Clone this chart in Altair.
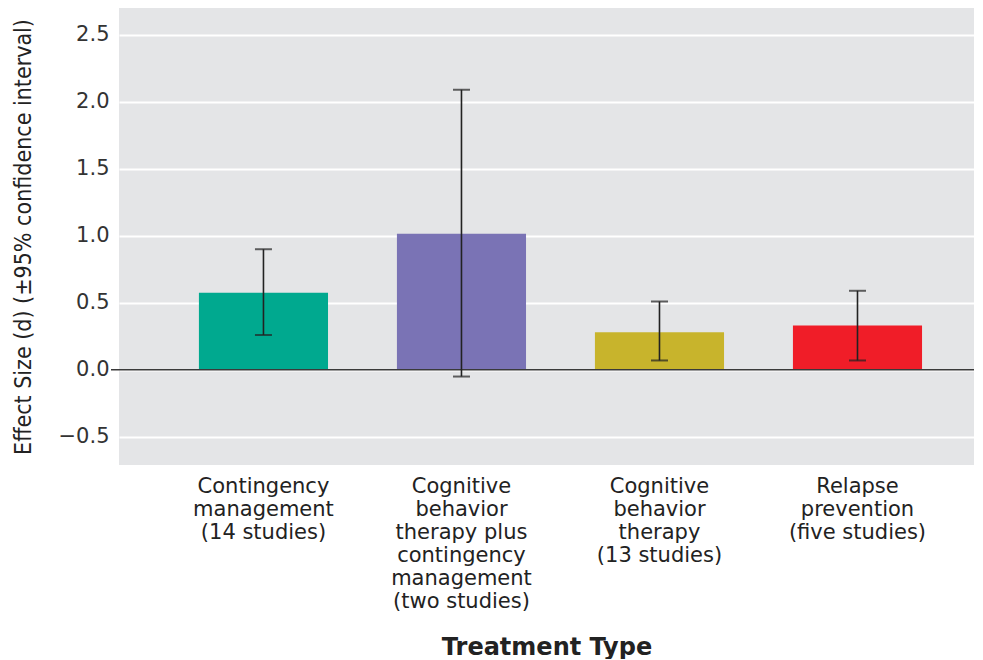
import altair as alt
import pandas as pd

categories = [
    "Contingency|management|(14 studies)",
    "Cognitive|behavior|therapy plus|contingency|management|(two studies)",
    "Cognitive|behavior|therapy|(13 studies)",
    "Relapse|prevention|(five studies)",
]
effect = [0.575, 1.015, 0.28, 0.33]
ci_low = [0.26, -0.05, 0.07, 0.07]
ci_high = [0.90, 2.09, 0.51, 0.59]
colors = ["#00a98f", "#7a73b5", "#c8b42c", "#f01d28"]
y_ticks = [-0.5, 0.0, 0.5, 1.0, 1.5, 2.0, 2.5]

df = pd.DataFrame({"cat": categories, "d": effect, "lo": ci_low, "hi": ci_high})

W, H = 855, 457

x_enc = alt.X(
    "cat:N",
    sort=None,
    scale=alt.Scale(paddingInner=0.348, paddingOuter=0.333, align=0.606),
    axis=alt.Axis(
        title="Treatment Type",
        labelExpr="split(datum.label, '|')",
        labelAngle=0,
        labelFont="DejaVu Sans",
        labelFontSize=21,
        labelLineHeight=23,
        labelColor="#222222",
        labelPadding=10,
        ticks=False,
        domain=False,
        titleFont="DejaVu Sans",
        titleFontWeight="bold",
        titleFontSize=24,
        titleColor="#222222",
        titlePadding=24,
        labelBaseline="top",
    ),
)

y_scale = alt.Scale(domain=[-0.71, 2.70], nice=False, zero=False)

bars = alt.Chart(df).mark_bar().encode(
    x=x_enc,
    y=alt.Y(
        "d:Q",
        scale=y_scale,
        axis=alt.Axis(
            values=y_ticks,
            format=".1f",
            title="Effect Size (d) (±95% confidence interval)",
            titleFont="DejaVu Sans Condensed",
            titleFontSize=23,
            titleFontWeight="normal",
            titleColor="#222222",
            titlePadding=23,
            labelFont="DejaVu Sans",
            labelFontSize=21,
            labelColor="#333333",
            labelPadding=10,
            ticks=False,
            domain=False,
            grid=True,
            gridColor="#ffffff",
            gridWidth=2,
        ),
    ),
    y2=alt.datum(0),
    color=alt.Color("cat:N", sort=None, scale=alt.Scale(domain=categories, range=colors), legend=None),
)

zero = alt.Chart(pd.DataFrame({"z": [0.0]})).mark_rule(color="#3a3a3a", strokeWidth=1.5).encode(
    y=alt.Y("z:Q", scale=y_scale),
    x=alt.value(-8),
    x2=alt.value(W),
)

err = alt.Chart(df).mark_rule(color="#222222", strokeWidth=1.6).encode(
    x=alt.X("cat:N", sort=None),
    y=alt.Y("lo:Q", scale=y_scale),
    y2="hi:Q",
)

cap_lo = alt.Chart(df).mark_tick(color="#222222", size=17, thickness=2).encode(
    x=alt.X("cat:N", sort=None),
    y=alt.Y("lo:Q", scale=y_scale),
)
cap_hi = alt.Chart(df).mark_tick(color="#222222", size=17, thickness=2).encode(
    x=alt.X("cat:N", sort=None),
    y=alt.Y("hi:Q", scale=y_scale),
)

chart = (
    alt.layer(bars, zero, err, cap_lo, cap_hi)
    .properties(width=W, height=H, padding={"top": 0, "left": 4, "right": 0, "bottom": 0})
    .configure_view(fill="#e4e5e7", stroke=None)
)

chart.save("out.html", embed_options={"renderer": "svg", "actions": False})
